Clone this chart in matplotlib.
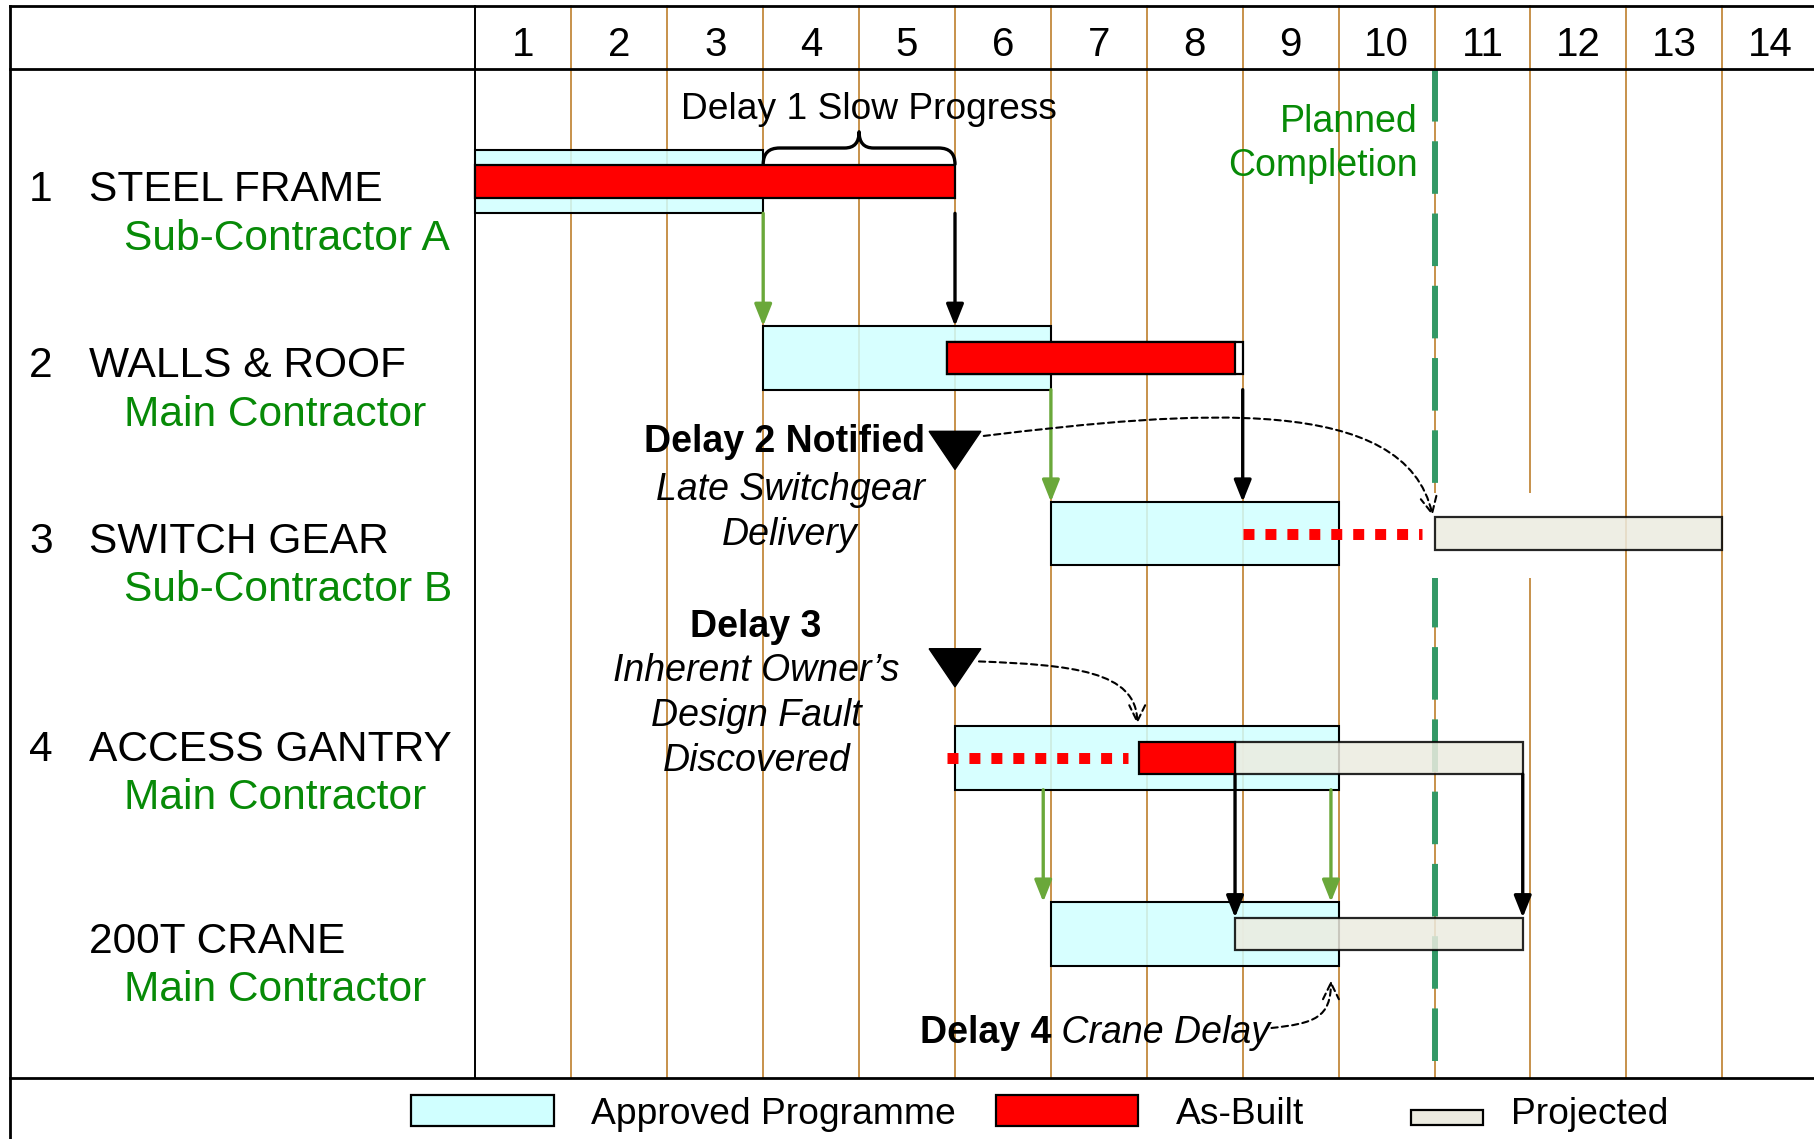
#!/usr/bin/env python3
"""Delay analysis programme: approved vs as-built vs projected bars."""

import matplotlib
matplotlib.use('Agg')
import matplotlib.pyplot as plt
from matplotlib.patches import Rectangle, Polygon, PathPatch, FancyArrowPatch
from matplotlib.path import Path

plt.rcParams['font.family'] = ['Liberation Sans', 'DejaVu Sans']

# ---- data (weeks) ----
weeks = list(range(1, 15))
task_nums = ['1', '2', '3', '4', '']
tasks = ['STEEL FRAME', 'WALLS & ROOF', 'SWITCH GEAR', 'ACCESS GANTRY', '200T CRANE']
contractors = ['Sub-Contractor A', 'Main Contractor', 'Sub-Contractor B',
               'Main Contractor', 'Main Contractor']
approved_start = [0, 3, 6, 5, 6]
approved_end = [3, 6, 9, 9, 9]
asbuilt_start = [0, 4.92, None, 6.92, None]
asbuilt_end = [5, 7.92, None, 7.92, None]
projected_start = [None, None, 10, 7.92, 7.92]
projected_end = [None, None, 13, 10.92, 10.92]
gap_start = [None, None, 8.0, 4.92, None]
gap_end = [None, None, 9.87, 6.8, None]
planned_completion = 10
delay1_span = (3, 5)
delay_marks = [5, 5]  # delay 2 notified, delay 3 discovered
# logic links (week, from row, to row)
approved_links = [(3, 0, 1), (6, 1, 2), (5.92, 3, 4), (8.92, 3, 4)]
actual_links = [(5, 0, 1), (8, 1, 2), (7.92, 3, 4), (10.92, 3, 4)]
legend_labels = ['Approved Programme', 'As-Built', 'Projected']

# ---- layout (y in layout units, 0 at top) ----
ROW_Y = [157, 309.5, 461.5, 655.5, 807.5]
LABEL_Y = [161, 313, 465, 645, 811]
OUTER, INNER = 27.5, 14
TOP, HEAD, BOTTOM = 5, 60, 932
X0, X1 = -4.958, 13.957
LEFT = -4.849
FS_LABEL, FS_NOTE = 30.6, 27

C_APPROVED = '#d0ffff'
C_PROJ = '#ecebe0'
C_RED = '#ff0000'
C_GRID = '#b8741a'
C_GREEN_TXT = '#078a07'
C_LINK = '#6aa83a'
C_PLANNED = '#339966'


def covers(start, end, x):
    return start is not None and start - 0.01 <= x <= end + 0.01


fig = plt.figure(figsize=(18.14, 11.39), dpi=100)
ax = fig.add_axes([0, 0, 1, 1])
ax.set_xlim(X0, X1)
ax.set_ylim(985, 0)
ax.axis('off')

# grid / frame
for wk in weeks[:-1]:
    ax.plot([wk, wk], [TOP, BOTTOM], color=C_GRID, lw=1.1, zorder=1)
ax.plot([planned_completion] * 2, [HEAD, BOTTOM], color=C_PLANNED, lw=4.3,
        dashes=(8.8, 3.3), zorder=1.2)
ax.add_patch(Rectangle((planned_completion - 0.07, 426), 1.14, 74,
                       facecolor='white', edgecolor='none', zorder=1.5))
for y in (TOP, HEAD, BOTTOM):
    ax.plot([LEFT, X1], [y, y], color='black', lw=2, zorder=6)
ax.plot([LEFT, LEFT], [TOP, 985], color='black', lw=2, zorder=6)
ax.plot([0, 0], [TOP, BOTTOM], color='black', lw=1.4, zorder=6)

for wk in weeks:
    ax.text(wk - 0.5, 48.5, str(wk), ha='center', va='baseline', fontsize=29)

# row labels
for i, name in enumerate(tasks):
    ax.text(-4.656, LABEL_Y[i] + 13, task_nums[i], fontsize=FS_LABEL, va='baseline')
    ax.text(-4.03, LABEL_Y[i] + 13, name, fontsize=FS_LABEL, va='baseline')
    ax.text(-3.667, LABEL_Y[i] + 55, contractors[i], fontsize=FS_LABEL,
            va='baseline', color=C_GREEN_TXT)

# bars
for i, y in enumerate(ROW_Y):
    ax.add_patch(Rectangle((approved_start[i], y - OUTER),
                           approved_end[i] - approved_start[i], 2 * OUTER,
                           facecolor=C_APPROVED, alpha=0.85, edgecolor='none', zorder=2))
    ax.add_patch(Rectangle((approved_start[i], y - OUTER),
                           approved_end[i] - approved_start[i], 2 * OUTER,
                           facecolor='none', edgecolor='black', lw=1.5, zorder=2.1))
    if projected_start[i] is not None:
        ax.add_patch(Rectangle((projected_start[i], y - INNER),
                               projected_end[i] - projected_start[i], 2 * INNER,
                               facecolor=C_PROJ, alpha=0.85, edgecolor='black',
                               lw=1.6, zorder=3))
    if asbuilt_start[i] is not None:
        tail = [x for x, a, b in actual_links if a == i and x > asbuilt_end[i] + 0.01]
        if tail and projected_start[i] is None:
            ax.add_patch(Rectangle((asbuilt_start[i], y - INNER),
                                   max(tail) - asbuilt_start[i], 2 * INNER,
                                   facecolor='white', edgecolor='black', lw=1.6, zorder=3.5))
        ax.add_patch(Rectangle((asbuilt_start[i], y - INNER),
                               asbuilt_end[i] - asbuilt_start[i], 2 * INNER,
                               facecolor=C_RED, edgecolor='black', lw=1.6, zorder=4))
    if gap_start[i] is not None:
        ax.plot([gap_start[i], gap_end[i]], [y, y], color=C_RED, lw=7.9,
                linestyle=(0, (1, 1)), solid_capstyle='butt',
                dash_capstyle='butt', zorder=4)

# logic links
head = '-|>,head_length=0.6,head_width=0.24'
for x, a, b in approved_links:
    ax.annotate('', xy=(x, ROW_Y[b] - OUTER), xytext=(x, ROW_Y[a] + OUTER),
                arrowprops=dict(arrowstyle=head, color=C_LINK, lw=2.4,
                                mutation_scale=22, shrinkA=0, shrinkB=0), zorder=5)
for x, a, b in actual_links:
    ya = ROW_Y[a] + (INNER if covers(projected_start[a], projected_end[a], x) else OUTER)
    yb = ROW_Y[b] - (INNER if covers(projected_start[b], projected_end[b], x) else OUTER)
    ax.annotate('', xy=(x, yb), xytext=(x, ya),
                arrowprops=dict(arrowstyle=head, color='black', lw=2.4,
                                mutation_scale=22, shrinkA=0, shrinkB=0), zorder=5)

# delay 1 brace
s, e = delay1_span
m = (s + e) / 2
yb, yh, yt = 142, 128, 114
verts = [(s, yb), (s, yh), (s + 0.17, yh), (m - 0.15, yh), (m, yh), (m, yt),
         (m, yh), (m + 0.15, yh), (e - 0.17, yh), (e, yh), (e, yb)]
codes = [Path.MOVETO, Path.CURVE3, Path.CURVE3, Path.LINETO, Path.CURVE3, Path.CURVE3,
         Path.CURVE3, Path.CURVE3, Path.LINETO, Path.CURVE3, Path.CURVE3]
ax.add_patch(PathPatch(Path(verts, codes), facecolor='none', edgecolor='black',
                       lw=2.4, capstyle='round', joinstyle='round', zorder=5))
ax.text(4.10, 103, 'Delay 1 Slow Progress', ha='center', va='baseline', fontsize=26.7)

ax.text(9.82, 114, 'Planned', ha='right', va='baseline', fontsize=FS_NOTE, color=C_GREEN_TXT)
ax.text(9.82, 152, 'Completion', ha='right', va='baseline', fontsize=FS_NOTE,
        color=C_GREEN_TXT)

# delay triangles
for wk, top in zip(delay_marks, (373, 561)):
    ax.add_patch(Polygon([(wk - 0.27, top), (wk + 0.27, top), (wk, top + 33)],
                         closed=True, facecolor='black', edgecolor='black', zorder=5))

ax.text(4.69, 391, 'Delay 2 Notified', ha='right', va='baseline', fontsize=FS_NOTE,
        fontweight='bold')
ax.text(3.28, 432, 'Late Switchgear', ha='center', va='baseline', fontsize=FS_NOTE,
        style='italic')
ax.text(3.28, 471, 'Delivery', ha='center', va='baseline', fontsize=FS_NOTE, style='italic')
ax.text(2.92, 551, 'Delay 3', ha='center', va='baseline', fontsize=FS_NOTE, fontweight='bold')
for txt, yy in zip(['Inherent Owner\u2019s', 'Design Fault', 'Discovered'], (589, 628, 667)):
    ax.text(2.93, yy, txt, ha='center', va='baseline', fontsize=FS_NOTE, style='italic')
t4 = ax.text(4.63, 902, 'Delay 4', ha='left', va='baseline', fontsize=FS_NOTE,
             fontweight='bold', zorder=6)
ax.annotate(' Crane Delay', xy=(1, 0), xycoords=t4, ha='left', va='bottom',
            fontsize=FS_NOTE, style='italic', zorder=6)

# dashed curved effect arrows
curves = [
    [(5.3, 377), (7.5, 355), (9.7, 340), (9.98, 446)],
    [(5.25, 572), (6.2, 575), (6.9, 580), (6.9, 626)],
    [(8.3, 889), (8.75, 885), (8.92, 880), (8.92, 848)],
]
for pts in curves:
    p = Path(pts, [Path.MOVETO, Path.CURVE4, Path.CURVE4, Path.CURVE4])
    ax.add_patch(FancyArrowPatch(path=p, arrowstyle='->,head_length=0.45,head_width=0.22',
                                 mutation_scale=26, lw=1.5, linestyle=(0, (3, 2)),
                                 color='black', zorder=5))

# legend
swatches = [((-0.676, 947), 1.496, 27, C_APPROVED), ((5.43, 947), 1.48, 27, C_RED),
            ((9.76, 960), 0.75, 13, C_PROJ)]
text_x = [1.206, 7.30, 10.80]
for (xy, w, h, c), lab, tx in zip(swatches, legend_labels, text_x):
    ax.add_patch(Rectangle(xy, w, h, facecolor=c, edgecolor='black', lw=1.6, zorder=5))
    ax.text(tx, 972, lab, ha='left', va='baseline', fontsize=26.8)

fig.savefig('out.png', dpi=100)
